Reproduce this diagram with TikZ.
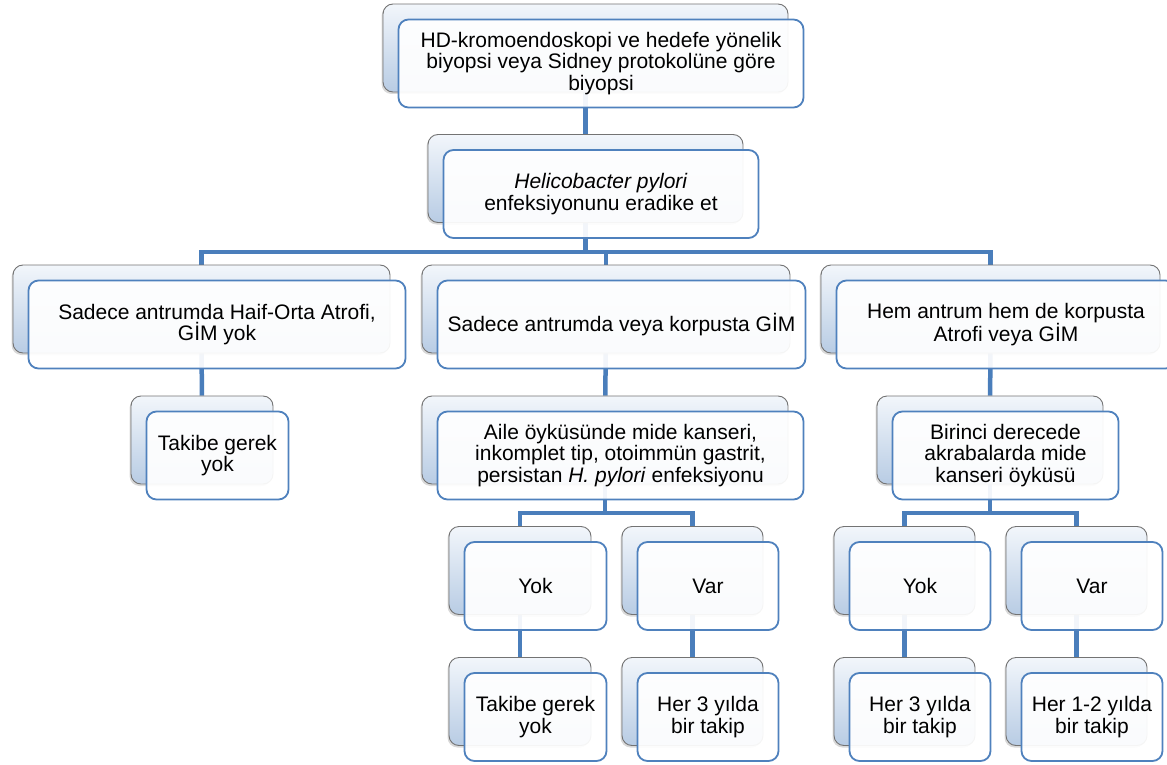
\documentclass[tikz,border=0pt]{standalone}
\usepackage{fontspec}
\setmainfont{Liberation Sans}
\usetikzlibrary{shadows,backgrounds}
\definecolor{linkblue}{RGB}{74,126,187}
\definecolor{edgeblue}{RGB}{79,129,189}
\definecolor{backtop}{RGB}{242,246,251}
\definecolor{backbot}{RGB}{184,204,228}
\begin{document}
\begin{tikzpicture}[x=1pt,y=-1pt,
  backbox/.style={draw=black!55,line width=0.9pt,rounded corners=10pt,top color=backtop,bottom color=backbot,
    minimum height=88,inner sep=0pt,drop shadow={shadow xshift=-1.5pt,shadow yshift=-2pt,opacity=.3}},
  frontbox/.style={draw=edgeblue,line width=1.8pt,rounded corners=10pt,fill=white,fill opacity=.93,text opacity=1,
    minimum height=88,inner sep=0pt,align=center,font=\fontsize{21}{21.5}\selectfont},
  conn/.style={draw=linkblue,line width=4.5pt}]
  \useasboundingbox (0,0) rectangle (1167,765);

  \node[backbox,minimum width=405] (top) at (585.5,48) {};
  \node[frontbox,minimum width=405] (topf) at (601,63.5) {HD-kromoendoskopi ve hedefe yönelik\\biyopsi veya Sidney protokolüne göre\\biyopsi};
  \node[backbox,minimum width=315] (hp) at (585.5,178.5) {};
  \node[frontbox,minimum width=315] (hpf) at (601,194) {\textit{Helicobacter pylori}\\enfeksiyonunu eradike et};

  \node[backbox,minimum width=377] (l3a) at (201.5,309) {};
  \node[frontbox,minimum width=377] (l3af) at (217,324.5) {Sadece antrumda Haif-Orta Atrofi,\\GİM yok};
  \node[backbox,minimum width=368] (l3b) at (606,309) {};
  \node[frontbox,minimum width=368] (l3bf) at (621.5,324.5) {Sadece antrumda veya korpusta GİM};
  \node[backbox,minimum width=339] (l3c) at (990.5,309) {};
  \node[frontbox,minimum width=339] (l3cf) at (1006,324.5) {Hem antrum hem de korpusta\\Atrofi veya GİM};

  \node[backbox,minimum width=142] (l4a) at (202,440) {};
  \node[frontbox,minimum width=142] (l4af) at (217.5,455.5) {Takibe gerek\\yok};
  \node[backbox,minimum width=366] (l4b) at (605,440) {};
  \node[frontbox,minimum width=366] (l4bf) at (620.5,455.5) {Aile öyküsünde mide kanseri,\\inkomplet tip, otoimmün gastrit,\\persistan \textit{H. pylori} enfeksiyonu};
  \node[backbox,minimum width=226] (l4c) at (990,440) {};
  \node[frontbox,minimum width=226] (l4cf) at (1005.5,455.5) {Birinci derecede\\akrabalarda mide\\kanseri öyküsü};

  \node[backbox,minimum width=142] (l5a) at (520,570.5) {};
  \node[frontbox,minimum width=142] (l5af) at (535.5,586) {Yok};
  \node[backbox,minimum width=141] (l5b) at (692.5,570.5) {};
  \node[frontbox,minimum width=141] (l5bf) at (708,586) {Var};
  \node[backbox,minimum width=141] (l5c) at (904.5,570.5) {};
  \node[frontbox,minimum width=141] (l5cf) at (920,586) {Yok};
  \node[backbox,minimum width=141] (l5d) at (1076.5,570.5) {};
  \node[frontbox,minimum width=141] (l5df) at (1092,586) {Var};

  \node[backbox,minimum width=142] (l6a) at (520,701.5) {};
  \node[frontbox,minimum width=142] (l6af) at (535.5,717) {Takibe gerek\\yok};
  \node[backbox,minimum width=141] (l6b) at (692.5,701.5) {};
  \node[frontbox,minimum width=141] (l6bf) at (708,717) {Her 3 yılda\\bir takip};
  \node[backbox,minimum width=141] (l6c) at (904.5,701.5) {};
  \node[frontbox,minimum width=141] (l6cf) at (920,717) {Her 3 yılda\\bir takip};
  \node[backbox,minimum width=141] (l6d) at (1076.5,701.5) {};
  \node[frontbox,minimum width=141] (l6df) at (1092,717) {Her 1-2 yılda\\bir takip};

  \coordinate (bus) at (585.5,252);
  \coordinate (busm) at (605,513);
  \coordinate (busr) at (990,513);

  \begin{pgfonlayer}{background}
  \draw[conn] (top) -- (hp);
  \draw[conn] (hp) -- (bus);
  \draw[conn] (l3a) |- (bus) -| (l3c);
  \draw[conn] (bus) -| (l3b);
  \draw[conn] (l3a) -- (l4a);
  \draw[conn] (l3b) -- (l4b);
  \draw[conn] (l3c) -- (l4c);
  \draw[conn] (l4b) -- (busm);
  \draw[conn] (l5a) |- (busm) -| (l5b);
  \draw[conn] (l4c) -- (busr);
  \draw[conn] (l5c) |- (busr) -| (l5d);
  \draw[conn] (l5a) -- (l6a);
  \draw[conn] (l5b) -- (l6b);
  \draw[conn] (l5c) -- (l6c);
  \draw[conn] (l5d) -- (l6d);
  \end{pgfonlayer}
\end{tikzpicture}
\end{document}
